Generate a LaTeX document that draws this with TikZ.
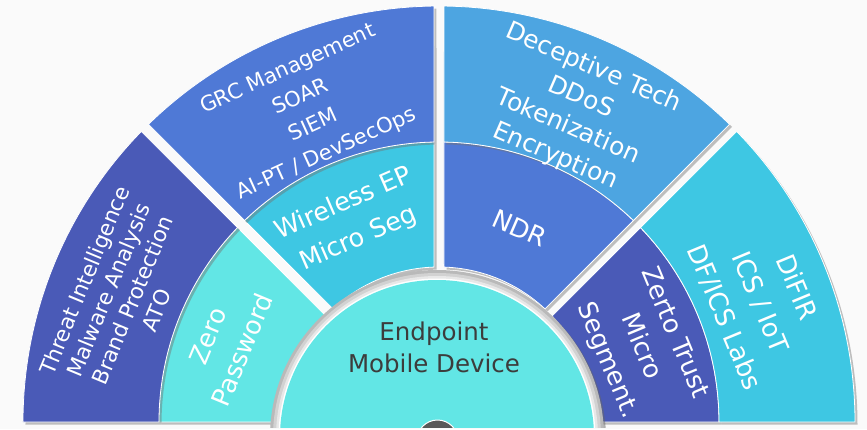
\documentclass[tikz,border=0pt]{standalone}
\usepackage{fontspec}
\setmainfont{DejaVu Sans}
\usepackage{tikz}
\usetikzlibrary{shadows}

\definecolor{indigoseg}{HTML}{4A5AB7}
\definecolor{royalseg}{HTML}{4F79D6}
\definecolor{skyseg}{HTML}{4DA5E1}
\definecolor{aquaseg}{HTML}{3EC7E3}
\definecolor{turqseg}{HTML}{62E6E5}
\definecolor{hubtext}{HTML}{3C3C3C}
\definecolor{pagebg}{HTML}{FAFAFA}

\begin{document}
\begin{tikzpicture}[x=1pt, y=1pt,
                    sector style/.style={
                        fill=#1,
                        draw=white,
                        line width=0.8pt,
                        drop shadow={shadow xshift=2.5pt, shadow yshift=-2.5pt, opacity=0.45, fill=black!55}
                    },
                    label style/.style 2 args={
                        text=white,
                        align=center,
                        inner sep=0pt,
                        font=\fontsize{#1}{#2}\selectfont
                    },
                    hub label/.style={
                        text=hubtext,
                        align=center,
                        inner sep=0pt,
                        font=\fontsize{24.5}{32}\selectfont
                    }
                ]
                    \fill[pagebg] (-439,-7) rectangle (428,422);
                    \useasboundingbox (-439,-7) rectangle (428,422);

                    \path[sector style=turqseg] (136.02:280) arc[start angle=136.02, end angle=180, radius=280] -- (180:155) arc[start angle=180, end angle=136.85, radius=155] -- cycle;
                    \path[sector style=aquaseg] (91.02:280) arc[start angle=91.02, end angle=133.98, radius=280] -- (133.15:155) arc[start angle=133.15, end angle=91.85, radius=155] -- cycle;
                    \path[sector style=royalseg] (46.02:280) arc[start angle=46.02, end angle=88.98, radius=280] -- (88.15:155) arc[start angle=88.15, end angle=46.85, radius=155] -- cycle;
                    \path[sector style=indigoseg] (0:280) arc[start angle=0, end angle=43.98, radius=280] -- (43.15:155) arc[start angle=43.15, end angle=0, radius=155] -- cycle;

                    \path[sector style=indigoseg] (135.69:416) arc[start angle=135.69, end angle=180, radius=416] -- (180:280) arc[start angle=180, end angle=136.02, radius=280] -- cycle;
                    \path[sector style=royalseg] (90.69:416) arc[start angle=90.69, end angle=134.31, radius=416] -- (133.98:280) arc[start angle=133.98, end angle=91.02, radius=280] -- cycle;
                    \path[sector style=skyseg] (45.69:416) arc[start angle=45.69, end angle=89.31, radius=416] -- (88.98:280) arc[start angle=88.98, end angle=46.02, radius=280] -- cycle;
                    \path[sector style=aquaseg] (0:416) arc[start angle=0, end angle=44.31, radius=416] -- (43.98:280) arc[start angle=43.98, end angle=0, radius=280] -- cycle;

                    \begin{scope}
                        \clip (-439,-5) rectangle (428,422);
                        \coordinate (hubc) at (-2,-15);
                        \fill[gray!55, drop shadow={shadow xshift=2pt, shadow yshift=-2pt, opacity=0.5, fill=black!60}] (hubc) circle (167);
                        \fill[gray!35] (hubc) circle (164);
                        \fill[gray!18] (hubc) circle (161);
                        \fill[white] (hubc) circle (158.5);
                        \fill[turqseg] (hubc) circle (157);
                        \fill[gray!70!black, draw=white, line width=1pt] (-1.5,-18.6) circle (20.6);
                    \end{scope}

                    \node[label style={21.5}{26}, rotate=67.5] (threat) at (158.3:343) {Threat Intelligence\\Malware Analysis\\Brand Protection\\ATO};
                    \node[label style={21}{31}, rotate=24.5] (grc) at (113:337) {GRC Management\\SOAR\\SIEM\\AI-PT / DevSecOps};
                    \node[label style={24.8}{32}, rotate=-23.5] (deceptive) at (66.4:338) {Deceptive Tech\\DDoS\\Tokenization\\Encryption};
                    \node[label style={26}{39}, rotate=-67.5] (difir) at (20.4:343) {DiFIR\\ICS / IoT\\DF/ICS Labs};
                    \node[label style={25.5}{37}, rotate=67.5] (zeropw) at (159.7:228) {Zero\\Password};
                    \node[label style={25.5}{38}, rotate=23.5] (wireless) at (113.7:219) {Wireless EP\\Micro Seg};
                    \node[label style={25.5}{32}, rotate=-23.5] (ndr) at (67.3:210) {NDR};
                    \node[label style={25.5}{36}, rotate=-67.5] (zerto) at (20.4:215) {Zerto Trust\\Micro\\Segment.};
                    \node[hub label] (hub) at (-5,75) {Endpoint\\Mobile Device};
                \end{tikzpicture}
\end{document}
